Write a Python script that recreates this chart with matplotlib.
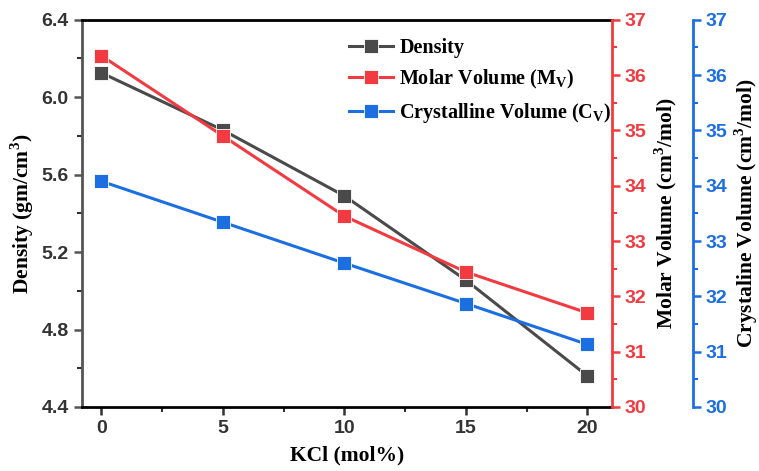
import numpy as np
import matplotlib
matplotlib.use('Agg')
import matplotlib.pyplot as plt
from matplotlib.ticker import MultipleLocator

kcl = [0, 5, 10, 15, 20]
density = [6.126, 5.83, 5.49, 5.055, 4.56]
molar_vol = [36.35, 34.9, 33.45, 32.44, 31.70]
cryst_vol = [34.08, 33.34, 32.60, 31.87, 31.13]

C_D = '#4a4a4a'; C_M = '#f23b40'; C_C = '#1c6fe0'
plt.rcParams['mathtext.fontset'] = 'custom'
plt.rcParams['mathtext.rm'] = 'Liberation Serif:bold'
plt.rcParams['mathtext.bf'] = 'Liberation Serif:bold'
LABF = dict(family='Liberation Serif', weight='bold', size=15.5)

fig = plt.figure(figsize=(7.59, 4.71), dpi=100)
ax = fig.add_axes([0.108, 0.136, 0.698, 0.822])
ax2 = ax.twinx(); ax3 = ax.twinx()
ax3.spines['right'].set_position(('axes', 1.153))

mk = dict(marker='s', markersize=9.5, markeredgecolor='white', markeredgewidth=0.6, linewidth=2.2)
l1, = ax.plot(kcl, density, color=C_D, label='Density', **mk)
l2, = ax2.plot(kcl, molar_vol, color=C_M, label='Molar Volume (M$_\\mathbf{V}$)', **mk)
l3, = ax3.plot(kcl, cryst_vol, color=C_C, label='Crystalline Volume (C$_\\mathbf{V}$)', **mk)

ax.set_xlim(-0.8, 21)
ax.set_ylim(4.4, 6.4)
ax2.set_ylim(30, 37); ax3.set_ylim(30, 37)
ax.set_xticks(kcl); ax.xaxis.set_minor_locator(MultipleLocator(2.5))
ax.set_yticks([4.4, 4.8, 5.2, 5.6, 6.0, 6.4]); ax.yaxis.set_minor_locator(MultipleLocator(0.2))
for a in (ax2, ax3):
    a.yaxis.set_major_locator(MultipleLocator(1)); a.yaxis.set_minor_locator(MultipleLocator(0.5))

for s in ['top', 'bottom']:
    ax.spines[s].set_linewidth(2); ax.spines[s].set_color('black')
ax.spines['left'].set_linewidth(2); ax.spines['left'].set_color('#555555')
ax.spines['right'].set_visible(False)
for a in (ax2, ax3):
    for s in ['top', 'bottom', 'left']: a.spines[s].set_visible(False)
ax2.spines['right'].set_color(C_M); ax2.spines['right'].set_linewidth(2)
ax3.spines['right'].set_color(C_C); ax3.spines['right'].set_linewidth(2)

ax.tick_params(axis='both', which='major', length=6, width=1.8, direction='out', color='#333333')
ax.tick_params(axis='both', which='minor', length=3.5, width=1.5, direction='out', color='#333333')
ax.tick_params(axis='y', colors='#555555', labelcolor='#333333')
for a, c in ((ax2, C_M), (ax3, C_C)):
    a.tick_params(axis='y', which='major', length=6, width=1.8, colors=c)
    a.tick_params(axis='y', which='minor', length=3.5, width=1.5, colors=c)

for a in (ax, ax2, ax3):
    for t in a.get_xticklabels() + a.get_yticklabels():
        t.set_fontfamily('Liberation Sans'); t.set_fontweight('bold'); t.set_fontsize(14)
for t in ax.get_xticklabels() + ax.get_yticklabels(): t.set_color('#333333')

ax.set_xlabel('KCl (mol%)', labelpad=6, **LABF)
ax.set_ylabel('Density (gm/cm$^\\mathbf{3}$)', labelpad=4, **LABF)
ax2.set_ylabel('Molar Volume (cm$^\\mathbf{3}$/mol)', labelpad=4, **LABF)
ax3.set_ylabel('Crystaline Volume (cm$^\\mathbf{3}$/mol)', labelpad=3, **LABF)

ax.legend(handles=[l1, l2, l3], loc='upper left', bbox_to_anchor=(0.47, 1.0), frameon=False,
          prop=dict(family='Liberation Serif', weight='bold', size=14.5), labelspacing=0.5,
          handlelength=2.2, handletextpad=0.3)

fig.savefig('out.png', dpi=100)
